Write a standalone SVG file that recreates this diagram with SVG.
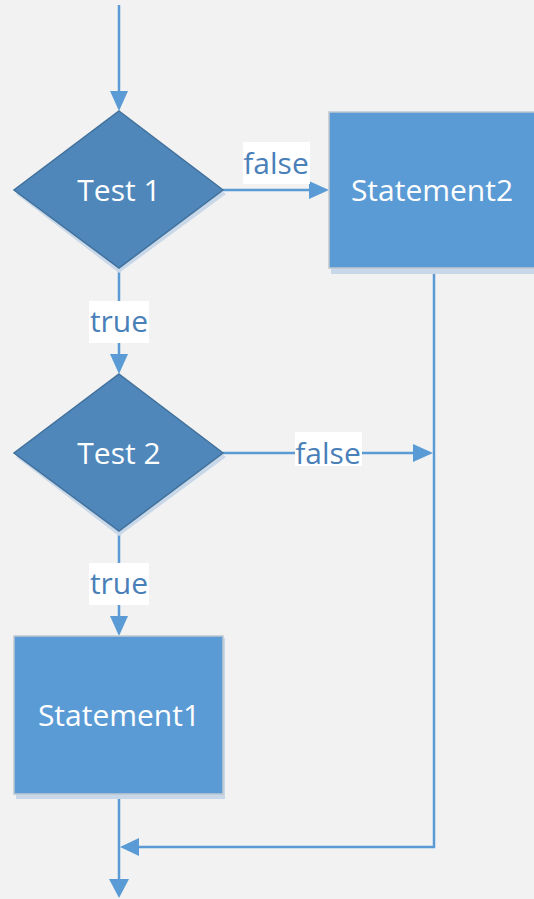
<svg xmlns="http://www.w3.org/2000/svg" width="534" height="899" viewBox="0 0 534 899">
<style>
.line{stroke:#5b9bd5;stroke-width:2.5;fill:none}
.dia{fill:#4f87bb;stroke:#41719c;stroke-width:1.5}
.box{fill:#5b9bd5;stroke:#bfc7cf;stroke-width:1.5}
.shadow{fill:#c8d8e8}
.node{font-family:"Open Sans","Liberation Sans",sans-serif;font-size:30px;fill:#ffffff;text-anchor:middle}
.lbl{font-family:"Open Sans","Liberation Sans",sans-serif;font-size:30px;fill:#4a80b8;text-anchor:middle}
.lblbg{fill:#ffffff}
.arrow{fill:#5b9bd5}
</style>
<rect width="534" height="899" fill="#f2f2f2"/>
<g id="connectors">
  <line class="line" x1="119" y1="5" x2="119" y2="95"/>
  <polygon class="arrow" points="110,91 128,91 119,111"/>
  <line class="line" x1="223" y1="190" x2="312" y2="190"/>
  <polygon class="arrow" points="309,181 309,199 329,190"/>
  <rect class="lblbg" x="243" y="142" width="67" height="42"/>
  <text class="lbl" x="276" y="174">false</text>
  <line class="line" x1="119" y1="268" x2="119" y2="358"/>
  <polygon class="arrow" points="110,354 128,354 119,374"/>
  <rect class="lblbg" x="89" y="301" width="60" height="42"/>
  <text class="lbl" x="119" y="332">true</text>
  <line class="line" x1="223" y1="453" x2="416" y2="453"/>
  <polygon class="arrow" points="413,444 413,462 433,453"/>
  <rect class="lblbg" x="295" y="432" width="67" height="34"/>
  <text class="lbl" x="328" y="464">false</text>
  <line class="line" x1="119" y1="531" x2="119" y2="620"/>
  <polygon class="arrow" points="110,616 128,616 119,636"/>
  <rect class="lblbg" x="89" y="563" width="60" height="42"/>
  <text class="lbl" x="119" y="594">true</text>
  <polyline class="line" points="434,268 434,847 136,847"/>
  <polygon class="arrow" points="139,838 139,856 120,847"/>
  <line class="line" x1="119" y1="794" x2="119" y2="883"/>
  <polygon class="arrow" points="109,879 129,879 119,898"/>
</g>
<g id="test1">
  <polygon class="shadow" points="119,115 226,194 119,273 16,194"/>
  <polygon class="dia" points="119,111 223,190 119,268 14,190"/>
  <text class="node" x="119" y="201">Test 1</text>
</g>
<g id="statement2">
  <rect class="shadow" x="331" y="114" width="205" height="160"/>
  <rect class="box" x="329" y="112" width="206" height="156"/>
  <text class="node" x="432" y="201">Statement2</text>
</g>
<g id="test2">
  <polygon class="shadow" points="119,378 226,457 119,536 16,457"/>
  <polygon class="dia" points="119,374 223,453 119,531 14,453"/>
  <text class="node" x="119" y="464">Test 2</text>
</g>
<g id="statement1">
  <rect class="shadow" x="16" y="638" width="209" height="161"/>
  <rect class="box" x="14" y="636" width="209" height="158"/>
  <text class="node" x="119" y="726">Statement1</text>
</g>
</svg>
